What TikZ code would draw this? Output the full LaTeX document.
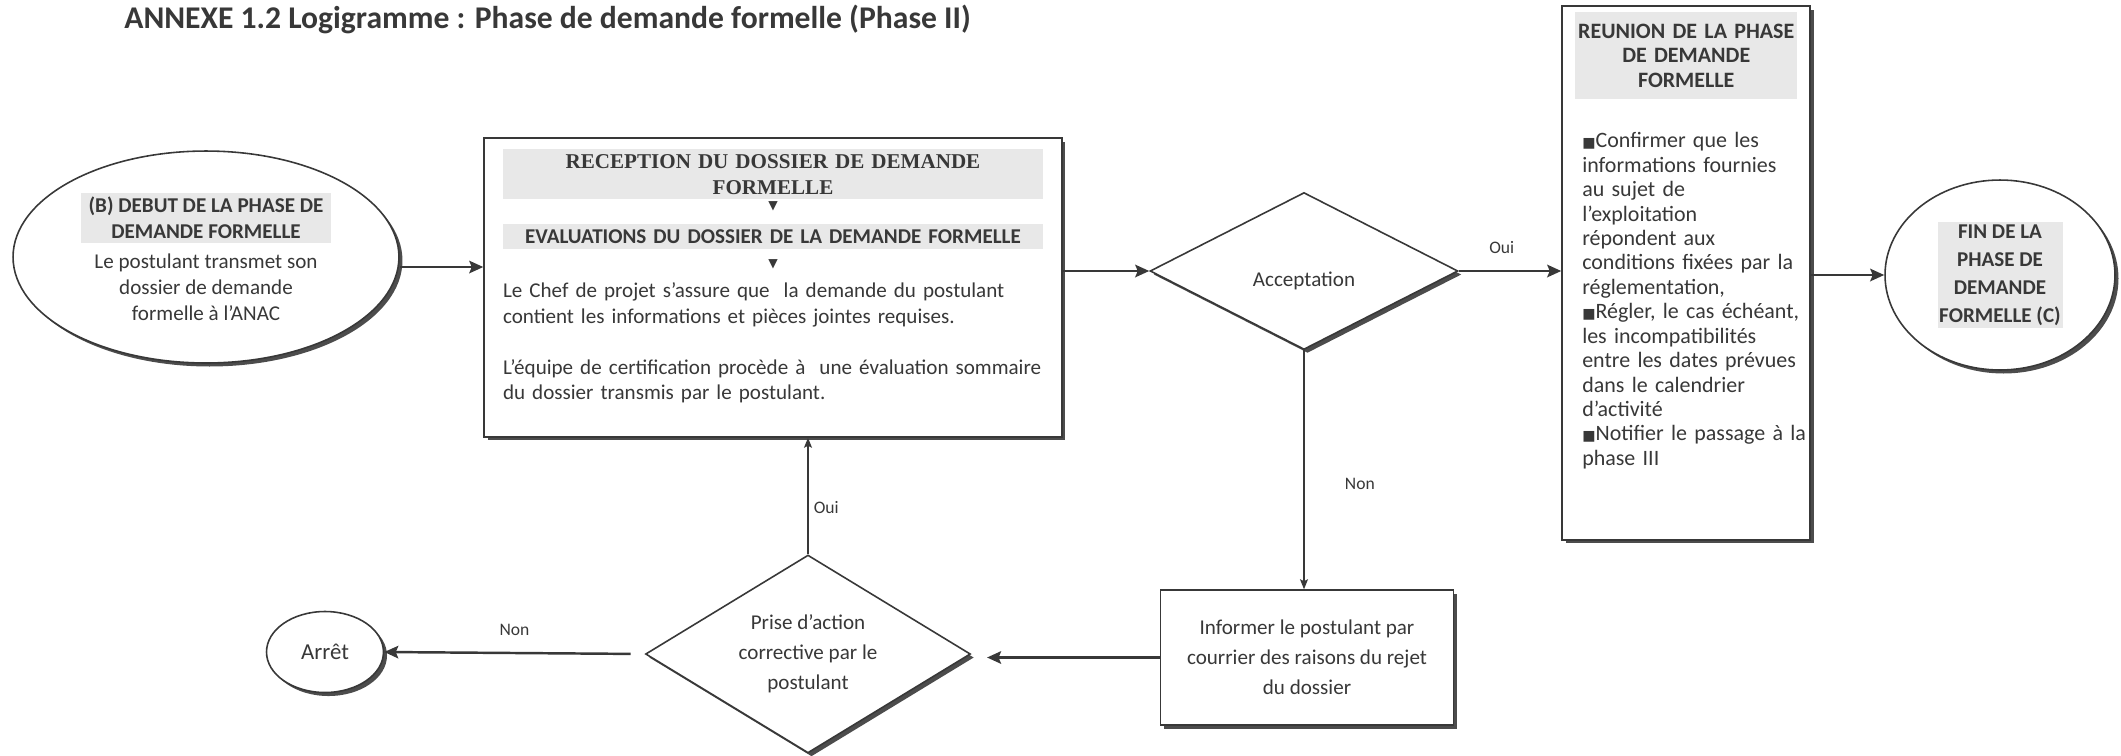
\documentclass[tikz,border=0pt]{standalone}
\usepackage{fontspec}
\setmainfont{Carlito}
\newfontfamily\serifhead{Liberation Serif}
\newfontfamily\symbfont{DejaVu Sans}
\usetikzlibrary{arrows.meta,shapes.geometric,shadows}
\definecolor{hl}{gray}{0.91}
\definecolor{ink}{gray}{0.22}
\setlength{\fboxsep}{0pt}
% grey band behind a heading: width, height, text
\newcommand\hlband[3]{\colorbox{hl}{\parbox[c][#2]{#1}{\centering\bfseries #3}}}
\newcommand\sqb{{\symbfont\fontsize{8}{8}\selectfont ■}}
\newcommand\tri{{\symbfont\fontsize{7}{7}\selectfont ▼}}

\begin{document}
\begin{tikzpicture}[
  x=0.02cm, y=-0.02cm,
  font=\fontsize{12}{14.5}\selectfont, text=ink,
  >={Stealth[length=2.8mm,width=2.5mm,inset=0.5mm]},
  shd/.style={drop shadow={shadow xshift=2pt, shadow yshift=-2pt,
              fill=black!70, opacity=1}},
  procbox/.style={rectangle, draw=ink, line width=0.9pt, fill=white, shd,
                  inner sep=0pt},
  term/.style={ellipse, draw=ink, line width=0.9pt, fill=white, shd,
               inner sep=0pt, align=center},
  decision/.style={diamond, draw=ink, line width=0.9pt, fill=white, shd,
                   inner sep=0pt, align=center},
  flow/.style={->, draw=ink, line width=1.4pt},
  flowthin/.style={-{Stealth[length=2mm,width=1.6mm,inset=0.4mm]}, draw=ink,
                   line width=0.6pt},
  lbl/.style={font=\fontsize{10}{12}\selectfont, inner sep=1pt},
]
\useasboundingbox (0,0) rectangle (2121,755);
% Title
\node[anchor=west, inner sep=0pt, font=\fontsize{18}{21}\selectfont\bfseries] (title)
  at (124,19) {ANNEXE 1.2 Logigramme : Phase de demande formelle (Phase II)};
% Start of phase
\node[term, minimum width=7.72cm, minimum height=4.24cm,
      font=\fontsize{12}{15}\selectfont] (debut) at (206,257)
  {\hlband{5cm}{1.0cm}{(B) DEBUT DE LA PHASE DE\\DEMANDE FORMELLE}\\[5pt]
   Le postulant transmet son\\dossier de demande\\formelle à l’ANAC};
% Reception / evaluation box
\node[procbox, minimum width=11.56cm, minimum height=5.98cm, text width=10.8cm,
      align=left] (recept) at (773,287.5)
  {\hlband{10.8cm}{1.0cm}{\serifhead\bfseries RECEPTION DU DOSSIER DE DEMANDE\\FORMELLE}\\[0pt]
   \makebox[10.8cm]{\tri}\\[4pt]
   \hlband{10.8cm}{0.5cm}{EVALUATIONS DU DOSSIER DE LA DEMANDE FORMELLE}\\[0pt]
   \makebox[10.8cm]{\tri}\\[3pt]
   Le Chef de projet s’assure que~ la demande du postulant\\
   contient les informations et pièces jointes requises.\\[14.5pt]
   L’équipe de certification procède à~ une évaluation sommaire\\
   du dossier transmis par le postulant.\par\vspace{0.45cm}};
% Acceptation test
\node[decision, minimum width=6.16cm, minimum height=3.14cm, aspect=2,
      text height=20pt] (accept) at (1304,271) {Acceptation};
% Meeting box
\node[procbox, minimum width=4.96cm, minimum height=10.68cm, text width=4.95cm,
      align=left, font=\fontsize{12.5}{13.9}\selectfont] (reunion) at (1686,273)
  {\leftskip=0.4cm
   \hspace*{-0.14cm}\hlband{4.44cm}{1.74cm}{REUNION DE LA PHASE\\DE DEMANDE\\FORMELLE}\\[18pt]
   \sqb Confirmer que les\\informations fournies\\au sujet de\\l’exploitation\\
   répondent aux\\conditions fixées par la\\réglementation,\\
   \sqb Régler, le cas échéant,\\les incompatibilités\\entre les dates prévues\\
   dans le calendrier\\d’activité\\
   \sqb Notifier le passage à la\\phase III\par\vspace{1.3cm}};
% End of phase
\node[term, minimum width=4.6cm, minimum height=3.8cm,
      font=\fontsize{12}{15.9}\selectfont] (fin) at (2000,275)
  {\hlband{2.5cm}{2.12cm}{FIN DE LA\\PHASE DE\\DEMANDE\\FORMELLE (C)}};
% Rejection letter
\node[procbox, minimum width=5.86cm, minimum height=2.7cm, align=center,
      font=\fontsize{12}{17}\selectfont] (inform) at (1307,657.5)
  {Informer le postulant par\\courrier des raisons du rejet\\du dossier};
% Corrective action test
\node[decision, minimum width=6.5cm, minimum height=3.96cm, aspect=1.64,
      font=\fontsize{12}{17}\selectfont] (prise) at (808,654)
  {Prise d’action\\corrective par le\\postulant};
% Stop
\node[term, minimum width=2.34cm, minimum height=1.62cm,
      font=\fontsize{13}{15}\selectfont] (arret) at (325,652) {Arrêt};
% connectors
\draw[flow] ([yshift=-5.7pt]debut.east) -- ([yshift=-5.7pt]debut.east -| recept.west);
\draw[flow] (accept.west -| recept.east) -- (accept.west);
\draw[flow] (accept.east) -- (accept.east -| reunion.west)
  node[lbl, pos=0.42, above=8pt] {Oui};
\draw[flow] (fin.west -| reunion.east) -- (fin.west);
\draw[flowthin] (accept.south) -- (accept.south |- inform.north)
  node[lbl, pos=0.56, right=22pt] {Non};
\draw[flow, shorten >=9pt] (inform.west) -- (inform.west -| prise.east);
\draw[flow, shorten <=8pt] (prise.west) -- (arret.east)
  node[lbl, pos=0.5, above=8pt] {Non};
\draw[flowthin] (prise.north) -- (prise.north |- recept.south)
  node[lbl, pos=0.4, right=2pt] {Oui};
\end{tikzpicture}
\end{document}
